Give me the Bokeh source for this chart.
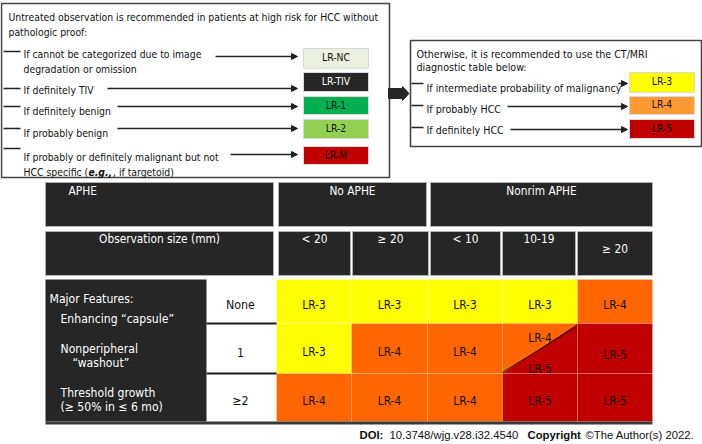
from bokeh.plotting import figure
from bokeh.models import ColumnDataSource, Range1d, Arrow, NormalHead
from bokeh.core.properties import value
from bokeh.embed import file_html
from bokeh.resources import INLINE

# ---------------- data ----------------
left_intro = ["Untreated observation is recommended in patients at high risk for HCC without",
              "pathologic proof:"]
left_conditions = [["If cannot be categorized due to image", "degradation or omission"],
                   ["If definitely TIV"],
                   ["If definitely benign"],
                   ["If probably benign"],
                   ["If probably or definitely malignant but not", "HCC specific ("]]
left_condition_tail = ["e.g.,", ", if targetoid)"]
left_categories = ["LR-NC", "LR-TIV", "LR-1", "LR-2", "LR-M"]
right_intro = ["Otherwise, it is recommended to use the CT/MRI", "diagnostic table below:"]
right_conditions = ["If intermediate probability of malignancy", "If probably HCC", "If definitely HCC"]
right_categories = ["LR-3", "LR-4", "LR-5"]
aphe_headers = ["APHE", "No APHE", "Nonrim APHE"]
size_header = "Observation size (mm)"
size_labels = ["< 20", "\u2265 20", "< 10", "10-19", "\u2265 20"]
feature_labels = ["Major Features:", "Enhancing \u201ccapsule\u201d", "Nonperipheral", "\u201cwashout\u201d",
                  "Threshold growth", "(\u2265 50% in \u2264 6 mo)"]
feature_counts = ["None", "1", "\u22652"]
grid_categories = [["LR-3", "LR-3", "LR-3", "LR-3", "LR-4"],
                   ["LR-3", "LR-4", "LR-4", "LR-4|LR-5", "LR-5"],
                   ["LR-4", "LR-4", "LR-4", "LR-5", "LR-5"]]
key_colors = {"LR-NC": "#ebf1de", "LR-TIV": "#262626", "LR-1": "#00b050", "LR-2": "#92d050",
              "LR-M": "#c00000", "LR-3": "#ffff00", "LR-4": "#ff9933", "LR-5": "#c00000"}
grid_colors = {"LR-3": "#ffff00", "LR-4": "#ff6600", "LR-5": "#c00000"}
doi_parts = ["DOI:", "10.3748/wjg.v28.i32.4540", "Copyright", "\u00a9The Author(s) 2022."]

# ---------------- layout (reference pixel space) ----------------
W, H = 702, 444

SANS = "'DejaVu Sans Condensed', 'DejaVu Sans', sans-serif"
NARROW = "'DejaVu Sans Condensed', 'Liberation Sans', sans-serif"
DARK = "#262626"

p = figure(width=W, height=H, x_range=Range1d(0, W), y_range=Range1d(H, 0),
           output_backend="svg", toolbar_location=None, min_border=0,
           x_axis_location=None, y_axis_location=None)
p.grid.visible = False
p.outline_line_color = None
p.background_fill_color = "white"
p.border_fill_color = "white"


def txt(xs, ys, texts, size, font=SANS, color="#111111", align="left", style="normal"):
    p.text(x=xs, y=ys, text=texts, text_font=value(font), text_font_size=f"{size:.2f}px",
           text_color=color, text_align=align, text_baseline="middle", text_font_style=style)


def arrows(x0, x1, ys):
    src = ColumnDataSource(dict(x0=x0, x1=x1, y=ys))
    p.add_layout(Arrow(end=NormalHead(size=6, fill_color="#222222", line_color="#222222"),
                       x_start="x0", y_start="y", x_end="x1", y_end="y", source=src,
                       line_color="#222222", line_width=1.5))


def box_outline(l, r, t, b):
    p.quad(left=[l], right=[r], top=[t], bottom=[b], fill_color=None, line_color="#444444", line_width=1.6)


KEY = 10.35
CELL = 11.8

# ---- left key box ----
box_outline(1, 389, 3, 177)
txt([8, 8], [16, 31], left_intro, KEY)
item_y = [51, 88, 106, 128, 148]
p.segment(x0=[3] * 5, x1=[20] * 5, y0=item_y, y1=item_y, line_color="#222222", line_width=1.5)
first_y = [53, 89, 110, 132, 156]
xs, ys, ts = [], [], []
for lines, y in zip(left_conditions, first_y):
    for k, line in enumerate(lines):
        xs.append(23); ys.append(y + 15 * k); ts.append(line)
txt(xs, ys, ts, KEY)
txt([88], [171], [left_condition_tail[0]], KEY, style="bold italic")
txt([112.5], [171], [left_condition_tail[1]], KEY)
arrows([215, 107, 117, 117, 230], [297] * 5, [56, 88, 106, 128, 154])
kt = [48, 72, 96, 119, 146]
kb = [68, 91, 114, 138, 164]
p.quad(left=[303] * 5, right=[368] * 5, top=kt, bottom=kb,
       fill_color=[key_colors[c] for c in left_categories], line_color="#d9d9d9", line_width=1)
txt([335.5] * 5, [t + 8 for t in kt], left_categories, KEY, align="center",
    color=["white" if c == "LR-TIV" else "#111111" for c in left_categories])

# ---- big arrow ----
p.patch(x=[388, 402, 402, 408.5, 402, 402, 388], y=[88, 88, 86, 93, 100, 98, 98],
        fill_color="#262626", line_color="#262626")

# ---- right key box ----
box_outline(410, 701, 40, 146)
txt([416, 416], [53, 66], right_intro, KEY + 0.25)
ry = [83, 105, 127]
p.segment(x0=[411] * 3, x1=[423] * 3, y0=ry, y1=ry, line_color="#222222", line_width=1.5)
txt([426] * 3, [87, 108, 129], right_conditions, KEY + 0.25)
arrows([618, 507, 510], [627] * 3, [83, 106, 129])
rt = [72, 96, 119]
rb = [92, 114, 138]
p.quad(left=[629] * 3, right=[694] * 3, top=rt, bottom=rb,
       fill_color=[key_colors[c] for c in right_categories], line_color="#d9d9d9", line_width=1)
txt([661.5] * 3, [80, 103, 127], right_categories, KEY, align="center")

# ---- table header rows ----
hA = (182, 226)
hB = (231, 275)
a_edges = [(45, 273), (278, 426), (430, 652)]
b_edges = [(45, 273), (278, 350), (352, 428), (430, 500), (502, 575), (577, 652)]
p.quad(left=[e[0] for e in a_edges], right=[e[1] for e in a_edges], top=[hA[0]] * 3, bottom=[hA[1]] * 3,
       fill_color=DARK, line_color="#b3b3b3", line_width=1)
p.quad(left=[e[0] for e in b_edges], right=[e[1] for e in b_edges], top=[hB[0]] * 6, bottom=[hB[1]] * 6,
       fill_color=DARK, line_color="#b3b3b3", line_width=1)
txt([68], [190], [aphe_headers[0]], CELL, font=NARROW, color="white")
txt([(e[0] + e[1]) / 2 for e in a_edges[1:]], [190, 190], aphe_headers[1:], CELL, font=NARROW,
    color="white", align="center")
txt([(b_edges[0][0] + b_edges[0][1]) / 2], [238], [size_header], CELL, font=NARROW, color="white", align="center")
txt([(e[0] + e[1]) / 2 for e in b_edges[1:]], [238, 238, 238, 238, 248], size_labels, CELL, font=NARROW,
    color="white", align="center")

# ---- matrix ----
col_edges = [276, 351, 427, 502, 577, 652]
row_edges = [279, 323, 373, 421]
p.quad(left=[45], right=[206], top=[row_edges[0]], bottom=[row_edges[-1]], fill_color=DARK, line_color=None)
for i, row in enumerate(grid_categories):
    for j, cat in enumerate(row):
        l, r = col_edges[j], col_edges[j + 1]
        t, b = row_edges[i], row_edges[i + 1]
        cy = (t + b) / 2 + 3.5
        cx = (l + r) / 2
        if "|" in cat:
            upper, lower = cat.split("|")
            p.patch(x=[l, r, l], y=[t, t, b], fill_color=grid_colors[upper], line_color=None)
            p.patch(x=[r, r, l], y=[t, b, b], fill_color=grid_colors[lower], line_color=None)
            p.segment(x0=[l], y0=[b - 1], x1=[r - 1], y1=[t + 3], line_color="#111111", line_width=1)
            txt([cx, cx], [cy - 14, cy + 17], [upper, lower], CELL, font=NARROW, align="center")
        else:
            p.quad(left=[l], right=[r], top=[t], bottom=[b], fill_color=grid_colors[cat],
                   line_color="white", line_alpha=0.18, line_width=1)
            txt([cx], [cy + (3 if j == 4 and i == 1 else 0)], [cat], CELL, font=NARROW, align="center")
# white count column separators
p.segment(x0=[206, 206], x1=[276, 276], y0=row_edges[1:3], y1=row_edges[1:3], line_color="#1a1a1a", line_width=2)
txt([240] * 3, [(row_edges[i] + row_edges[i + 1]) / 2 + 3.5 for i in range(3)], feature_counts, CELL + 0.5,
    font=NARROW, align="center")
# bottom strip
p.quad(left=[45], right=[652], top=[421], bottom=[424], fill_color="#3a3a3a", line_color=None)
# feature labels
txt([49, 60, 60, 72, 60, 60], [298, 318, 348, 362, 392, 406], feature_labels, CELL + 0.3, font=NARROW, color="white")

# ---- credit ----
DOI_FONT = "'Liberation Sans', Arial, sans-serif"
txt([359], [434], [doi_parts[0]], 11.3, font=DOI_FONT, style="bold")
txt([389], [434], [doi_parts[1]], 11.3, font=DOI_FONT)
txt([527], [434], [doi_parts[2]], 11.3, font=DOI_FONT, style="bold")
txt([585], [434], [doi_parts[3]], 11.3, font=DOI_FONT)

open("out.html", "w").write(file_html(p, INLINE))
